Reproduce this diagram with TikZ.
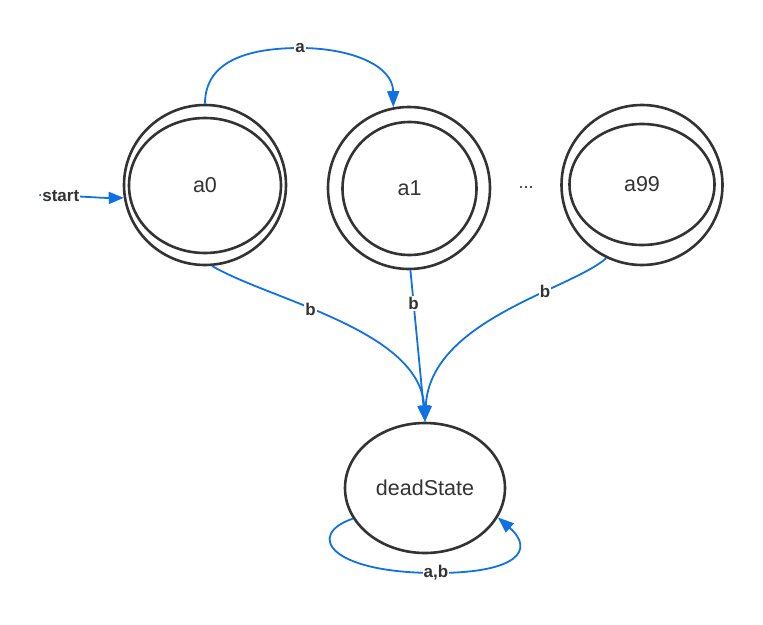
\documentclass[tikz,border=0pt]{standalone}
\usepackage{fontspec}
\setmainfont{Liberation Sans}
\usetikzlibrary{shapes.geometric,arrows.meta}
\definecolor{ink}{HTML}{333333}
\definecolor{edgeblue}{HTML}{1071E5}
\tikzset{
  ring/.style={draw=ink, line width=2.6pt, ellipse, inner sep=0pt, text=ink},
  statetext/.style={font=\fontsize{21.5}{24}\selectfont},
  lbl/.style={fill=white, inner sep=1pt, text=ink, font=\fontsize{17}{19}\selectfont\bfseries},
  trans/.style={draw=edgeblue, line width=1.8pt, -{Triangle[length=16pt,width=12pt]}},
}
\begin{document}
\begin{tikzpicture}[x=1pt,y=-1pt]
\useasboundingbox (0,0) rectangle (763,624);
% states
\node[ring, minimum width=162pt, minimum height=160pt] (a0) at (205,185) {};
\node[ring, statetext, minimum width=152pt, minimum height=135pt] (a0in) at (205,185.5) {a0};
\node[ring, minimum width=162pt, minimum height=162pt] (a1) at (409,188) {};
\node[ring, statetext, minimum width=134pt, minimum height=133pt] (a1in) at (409.5,188.5) {a1};
\node[ring, minimum width=161pt, minimum height=160pt] (a99) at (642,185) {};
\node[ring, statetext, minimum width=145pt, minimum height=121pt] (a99in) at (642,184.5) {a99};
\node[text=ink, font=\fontsize{18}{20}\selectfont] (dots) at (526,188) {...};
\node[ring, statetext, minimum width=160pt, minimum height=130pt] (dead) at (425,488) {deadState};
% start
\coordinate (s) at (40,195);
\fill[edgeblue] (s) circle (1pt);
\draw[draw=edgeblue, line width=1.8pt, -{Triangle[length=15pt,width=12pt]}] (s) .. controls (80,196) and (100,198) .. (a0.189)
  node[lbl, pos=0.19] {start};
% a edge
\draw[trans] (a0.90) .. controls (205,60) and (250,48) .. (300,48) node[lbl] (la) {a}
  .. controls (350,48) and (393,65) .. (a1.101);
% b edges
\draw[trans] (a0.-85) .. controls (270,300) and (420,330) .. (dead.90)
  node[lbl, pos=0.40] {b};
\draw[trans] (a1.-89) -- (dead.90) node[lbl, pos=0.22] {b};
\draw[trans] (a99.-116) .. controls (570,290) and (430,320) .. (dead.90)
  node[lbl, pos=0.33] {b};
% loop
\draw[trans] (dead.203) .. controls (305,535) and (330,573) .. (436,573) node[lbl] (lab) {a,b}
  .. controls (518,573) and (535,550) .. (dead.-22);
\end{tikzpicture}
\end{document}
